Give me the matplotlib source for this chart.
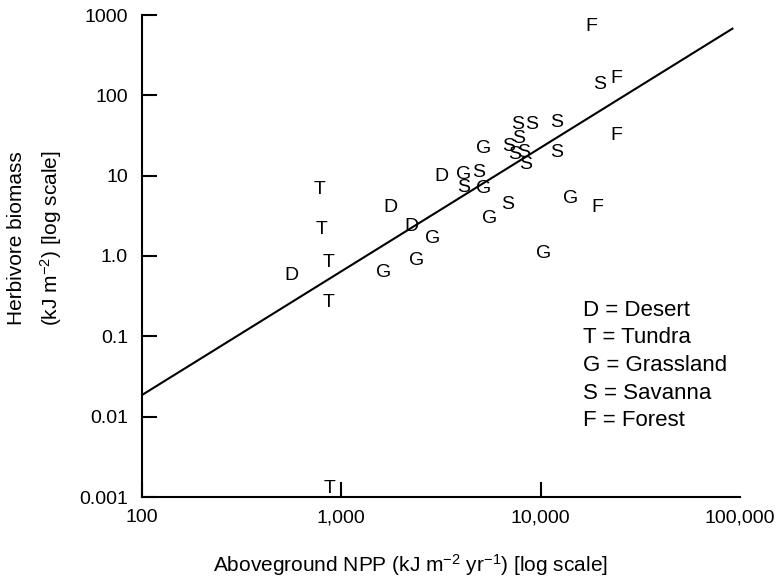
import matplotlib
matplotlib.use("Agg")
import matplotlib.pyplot as plt

plt.rcParams['font.family'] = ['Liberation Sans', 'DejaVu Sans']
plt.rcParams['mathtext.fontset'] = 'custom'
plt.rcParams['mathtext.rm'] = 'Liberation Sans'
plt.rcParams['mathtext.it'] = 'Liberation Sans'

# Aboveground NPP (kJ m^-2 yr^-1) and herbivore biomass (kJ m^-2) per biome
tundra_npp = [781, 800, 867, 867, 877]
tundra_herb = [6.8, 2.11, 0.82, 0.26, 0.00129]

desert_npp = [560, 1754, 2239, 3164]
desert_herb = [0.564, 4.07, 2.30, 9.9]

grass_npp = [1637, 2399, 2885, 4085, 5200, 5200, 5570, 10400, 14060]
grass_herb = [0.615, 0.89, 1.63, 10.2, 7.0, 21.5, 2.89, 1.06, 5.13]

savanna_npp = [4910, 4085, 6855, 7625, 9060, 12080, 7710, 6940, 7360, 8260, 8450, 12080, 19860]
savanna_herb = [10.8, 7.2, 4.43, 42.8, 42.8, 45.3, 29.4, 22.8, 18.6, 19.7, 13.6, 19.7, 138]

forest_npp = [19190, 23880, 17910, 23880]
forest_herb = [4.07, 31.2, 710, 164]

biome_letters = ["T", "D", "G", "S", "F"]

fit_x = [100, 91600]
fit_y = [0.0186, 676]

legend_lines = ["D = Desert", "T = Tundra", "G = Grassland", "S = Savanna", "F = Forest"]

xticks = [100, 1000, 10000, 100000]
xticklabels = ["100", "1,000", "10,000", "100,000"]
yticks = [0.001, 0.01, 0.1, 1, 10, 100, 1000]
yticklabels = ["0.001", "0.01", "0.1", "1.0", "10", "100", "1000"]

W, H = 776, 582
fig = plt.figure(figsize=(W / 100, H / 100), dpi=100)
ax = fig.add_axes([142 / W, 1 - 497 / H, 598 / W, 482 / H])
ax.set_xscale("log")
ax.set_yscale("log")
ax.set_xlim(100, 100000)
ax.set_ylim(0.001, 1000)

groups = [(tundra_npp, tundra_herb), (desert_npp, desert_herb), (grass_npp, grass_herb),
          (savanna_npp, savanna_herb), (forest_npp, forest_herb)]
for letter, (xs, ys) in zip(biome_letters, groups):
    for xv, yv in zip(xs, ys):
        ax.text(xv, yv, letter, ha="center", va="center", fontsize=14, color="black")

ax.plot(fit_x, fit_y, color="black", lw=1.5)

ax.spines["top"].set_visible(False)
ax.spines["right"].set_visible(False)
ax.spines["left"].set_linewidth(1.5)
ax.spines["bottom"].set_linewidth(1.5)

ax.set_xticks(xticks)
ax.set_xticklabels(xticklabels)
ax.set_yticks(yticks)
ax.set_yticklabels(yticklabels)
ax.minorticks_off()
ax.tick_params(axis="both", direction="in", length=11, width=1.5, labelsize=14, colors="black")
ax.tick_params(axis="y", pad=10)
ax.tick_params(axis="x", pad=9)
ax.xaxis.get_major_ticks()[-1].tick1line.set_visible(False)

# axis titles
fig.text(410 / W, 1 - 565 / H, "Aboveground NPP (kJ m$^{-2}$ yr$^{-1}$) [log scale]",
         ha="center", va="center", fontsize=15)
fig.text(17 / W, 1 - 238 / H, "Herbivore biomass", rotation=90,
         ha="center", va="center", fontsize=15)
fig.text(51 / W, 1 - 238 / H, "(kJ m$^{-2}$) [log scale]", rotation=90,
         ha="center", va="center", fontsize=15)

# key placed in axes fraction coordinates
ax_h = 482
for i, line in enumerate(legend_lines):
    ypix = 310 + i * 27.7
    ax.text((583 - 142) / 598, (497 - ypix) / ax_h, line, transform=ax.transAxes,
            ha="left", va="center", fontsize=16)

fig.savefig("out.png", dpi=100)
